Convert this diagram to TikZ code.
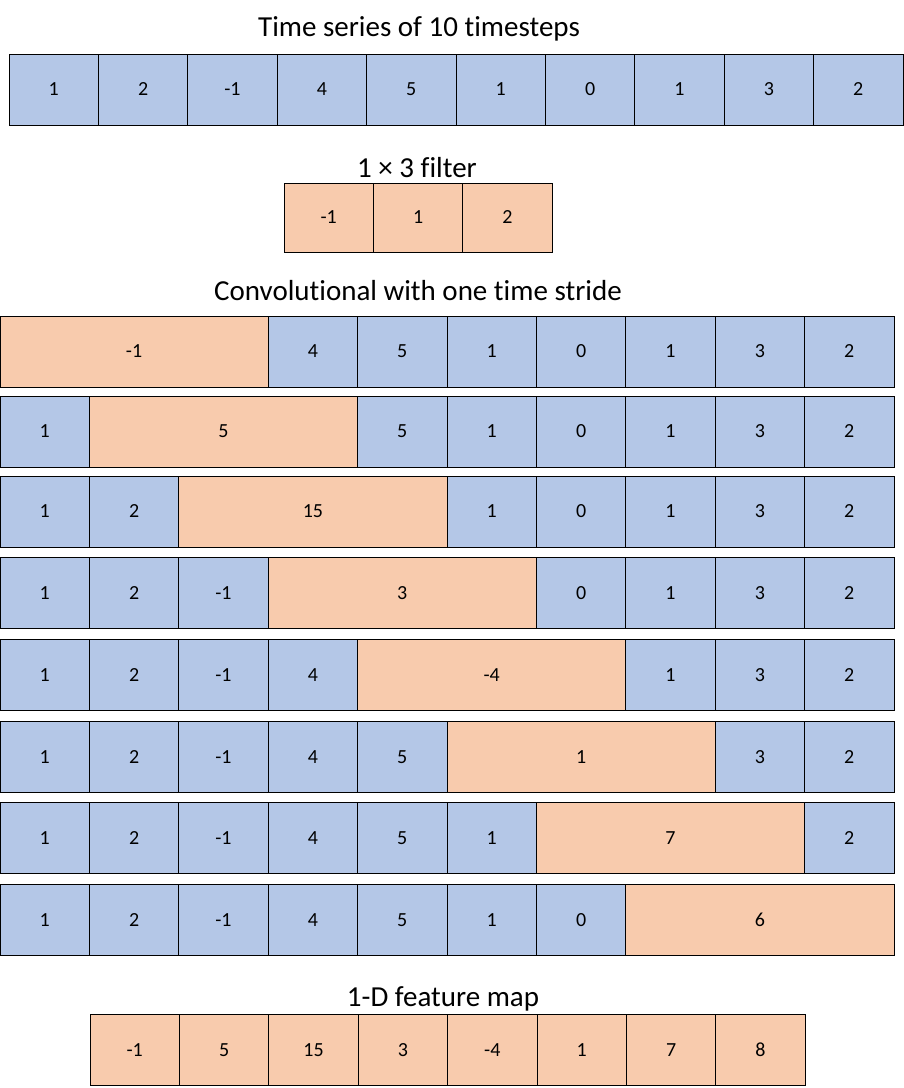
\documentclass[tikz,border=0pt]{standalone}
\usepackage{fontspec}
\setmainfont{Carlito}[Ligatures=NoCommon]
\usetikzlibrary{positioning}
\definecolor{cellblue}{HTML}{B4C7E7}
\definecolor{cellorange}{HTML}{F8CBAD}

\begin{document}
\begin{tikzpicture}[x=1pt, y=-1pt, node distance=0pt,
  cell/.style={draw, fill=cellblue, minimum width=89.4pt, minimum height=71pt,
    inner sep=0pt, outer sep=0pt, line width=0.9pt, font=\fontsize{20}{22}\selectfont},
  fcell/.style={cell, fill=cellorange},
  wide/.style={fcell, minimum width=268.2pt, line width=1pt},
  title/.style={font=\fontsize{29}{33}\selectfont}]
\useasboundingbox (0,0) rectangle (904,1088);

% input series
\node (ttl) [title] at (419,29) {Time series of 10 timesteps};
\node (s1) [cell, anchor=west] at (9,89.5) {1};
\foreach \v [count=\i from 2] in {2,-1,4,5,1,0,1,3,2} {
  \pgfmathtruncatemacro\p{\i-1}
  \node (s\i) [cell, right=of s\p] {\v};
}

% filter
\node (fttl) [title] at (417,168) {1 × 3 filter};
\node (f1) [fcell, minimum height=69pt, anchor=west] at (284,217.5) {-1};
\node (f2) [fcell, minimum height=69pt, right=of f1] {1};
\node (f3) [fcell, minimum height=69pt, right=of f2] {2};

% sliding the filter
\node (cttl) [title] at (418,291) {Convolutional with one time stride};
\foreach \r/\yy/\res in {0/351.5/-1, 1/431.5/5, 2/511.5/15, 3/593/3,
                         4/675/-4, 5/757/1, 6/838/7, 7/920/6} {
  \foreach \v [count=\j from 0] in {1,2,-1,4,5,1,0,1,3,2} {
    \ifnum\j<\r
      \node (c\r-\j) [cell, anchor=west] at (89.4*\j,\yy) {\v};
    \fi
    \ifnum\j>\numexpr\r+2\relax
      \node (c\r-\j) [cell, anchor=west] at (89.4*\j,\yy) {\v};
    \fi
  }
  \node (w\r) [wide, anchor=west] at (89.4*\r,\yy) {\res};
}

% output
\node (mttl) [title] at (443,999) {1-D feature map};
\node (m1) [fcell, anchor=west] at (90,1050) {-1};
\foreach \v [count=\i from 2] in {5,15,3,-4,1,7,8} {
  \pgfmathtruncatemacro\p{\i-1}
  \node (m\i) [fcell, right=of m\p] {\v};
}
\end{tikzpicture}
\end{document}
